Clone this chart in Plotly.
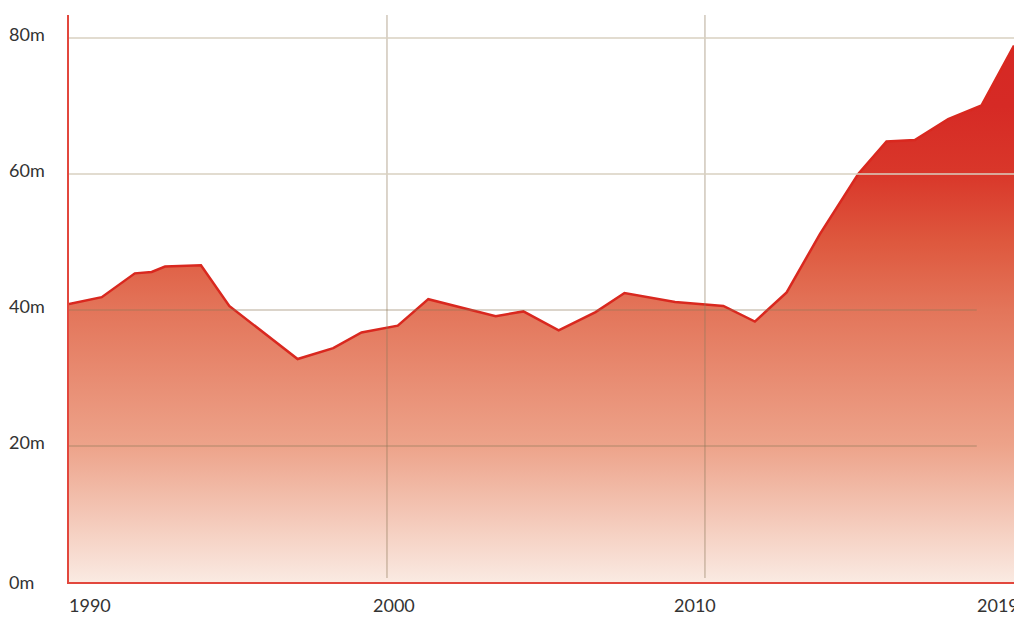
import plotly.graph_objects as go

# Data (fractional years, millions)
years = [1990.0, 1991.03, 1992.07, 1992.6, 1993.02, 1994.15, 1995.04, 1997.19, 1998.31,
         1999.2, 2000.34, 2001.3, 2003.42, 2004.29, 2005.4, 2006.56, 2007.47, 2009.06,
         2010.58, 2011.57, 2012.57, 2013.62, 2014.82, 2015.71, 2016.6, 2017.65, 2018.7, 2019.72]
values = [40.9, 41.9, 45.4, 45.6, 46.4, 46.6, 40.6, 32.8, 34.4,
          36.7, 37.7, 41.6, 39.1, 39.8, 37.0, 39.7, 42.5, 41.2,
          40.6, 38.3, 42.6, 51.2, 60.0, 64.8, 65.0, 68.1, 70.1, 78.9]

y_ticks = [0, 20, 40, 60, 80]
y_tick_labels = ["0m", "20m", "40m", "60m", "80m"]
x_tick_labels = ["1990", "2000", "2010", "2019"]
x_tick_years = [1990, 2000, 2010, 2019]
x_grid_years = [2000, 2010]
y_grid_low = [20, 40]     # semi-transparent, shorter grid lines
y_grid_high = [60, 80]    # opaque grid lines

X_MIN, X_MAX = 1990, 2019.72
Y_MIN, Y_MAX = 0, 83.4

FONT = "Lato, 'Open Sans', sans-serif"
TXT = "#333333"
AXIS_RED = "#e2473d"
GRID_T = "rgba(140,118,88,0.42)"
GRID_O = "#d9d0c1"

fig = go.Figure()
fig.add_trace(go.Scatter(
    x=years, y=values, mode="lines",
    line=dict(color="#d9281f", width=2.5),
    fill="tozeroy",
    fillgradient=dict(
        type="vertical",
        start=0, stop=80,
        colorscale=[
            [0.0, "rgb(250,234,226)"],
            [0.25, "rgb(237,163,138)"],
            [0.5, "rgb(227,117,90)"],
            [0.625, "rgb(222,88,62)"],
            [0.75, "rgb(217,55,42)"],
            [0.875, "rgb(214,42,37)"],
            [1.0, "rgb(214,40,36)"],
        ],
    ),
    hoverinfo="x+y",
    showlegend=False,
))

shapes = []
for xv in x_grid_years:
    shapes.append(dict(type="line", xref="x", yref="y", x0=xv, x1=xv, y0=0.6, y1=Y_MAX,
                       line=dict(color=GRID_T, width=1.5), layer="above"))
for yv in y_grid_low:
    shapes.append(dict(type="line", xref="x", yref="y", x0=X_MIN, x1=2018.55, y0=yv, y1=yv,
                       line=dict(color=GRID_T, width=1.5), layer="above"))
for yv in y_grid_high:
    shapes.append(dict(type="line", xref="x", yref="y", x0=X_MIN, x1=X_MAX, y0=yv, y1=yv,
                       line=dict(color=GRID_O, width=1.5), layer="above"))

annotations = []
for v, t in zip(y_ticks, y_tick_labels):
    annotations.append(dict(
        xref="paper", x=0, xanchor="left", xshift=-62,
        yref="y", y=v, yanchor="middle", yshift=4 if v > 0 else 0,
        text=t, showarrow=False,
        font=dict(family=FONT, size=18, color=TXT),
    ))

x_anchor = {"1990": ("left", -2), "2000": ("center", 7), "2010": ("center", -10), "2019": ("left", -16)}
for yr, t in zip(x_tick_years, x_tick_labels):
    anc, sh = x_anchor[t]
    annotations.append(dict(
        xref="x", x=yr, xanchor=anc, xshift=sh,
        yref="paper", y=0, yanchor="middle", yshift=-23,
        text=t, showarrow=False,
        font=dict(family=FONT, size=18, color=TXT),
    ))

fig.update_layout(
    width=1014, height=617,
    margin=dict(l=69, r=0, t=15, b=35),
    paper_bgcolor="white", plot_bgcolor="white",
    font=dict(family=FONT, size=18, color=TXT),
    xaxis=dict(
        range=[X_MIN, X_MAX],
        showticklabels=False, ticks="",
        showgrid=False,
        zeroline=False,
        showline=True, linecolor=AXIS_RED, linewidth=2,
        layer="above traces",
        fixedrange=True,
    ),
    yaxis=dict(
        range=[Y_MIN, Y_MAX],
        showticklabels=False, ticks="",
        showgrid=False,
        zeroline=False,
        showline=True, linecolor=AXIS_RED, linewidth=2,
        layer="above traces",
        fixedrange=True,
    ),
    shapes=shapes,
    annotations=annotations,
)

fig.write_html(
    "out.html",
    config={"displayModeBar": False},
    post_script="document.body.style.margin='0';document.body.style.padding='0';document.body.style.overflow='hidden';",
)
